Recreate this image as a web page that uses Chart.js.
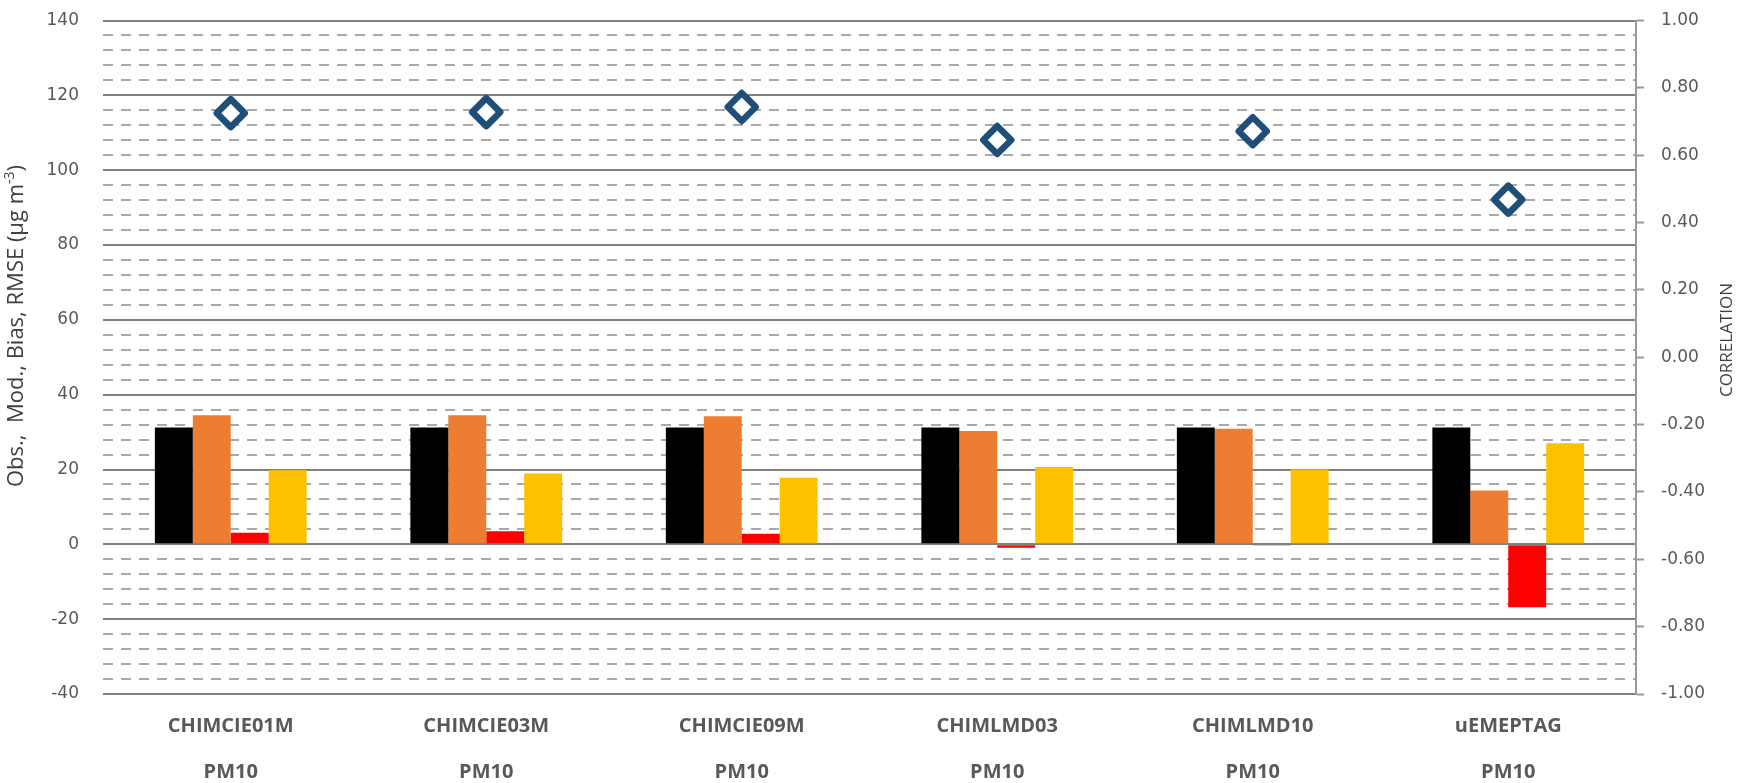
<!DOCTYPE html>
<html>
<head>
<meta charset="utf-8">
<script src="https://cdn.jsdelivr.net/npm/chart.js@4.4.1/dist/chart.umd.min.js"></script>
<style>
  html, body { margin: 0; padding: 0; background: #ffffff; }
  #wrap { width: 1739px; height: 783px; position: relative; }
</style>
</head>
<body>
<div id="wrap"><canvas id="c" width="1739" height="783"></canvas></div>
<script>
// Model runs and the pollutant evaluated for each
const models = ['CHIMCIE01M', 'CHIMCIE03M', 'CHIMCIE09M', 'CHIMLMD03', 'CHIMLMD10', 'uEMEPTAG'];
const pollutant = ['PM10', 'PM10', 'PM10', 'PM10', 'PM10', 'PM10'];

// Statistics in µg m-3
const observed = [31.2, 31.2, 31.2, 31.2, 31.2, 31.2];
const modelled = [34.5, 34.5, 34.2, 30.3, 30.9, 14.4];
const bias     = [3.1, 3.5, 2.8, -0.9, -0.3, -16.8];
const rmse     = [19.8, 18.9, 17.8, 20.7, 20.0, 27.0];

// Correlation coefficient (right axis)
const correlation = [0.725, 0.728, 0.743, 0.645, 0.671, 0.468];

// Axis ranges and tick spacing
const leftRange  = { min: -40, max: 140, major: 20, minor: 4 };
const rightRange = { min: -1, max: 1, step: 0.2 };

const GRID_MAJOR = '#808080';
const GRID_MINOR = '#a9a9a9';
const TEXT_GREY  = '#595959';
const TITLE_GREY = '#404040';

const isMajor = (v) => Math.abs(v % leftRange.major) < 1e-9;

// Rounded corners for the diamond markers
const roundJoins = {
  id: 'roundJoins',
  beforeDatasetDraw(chart, args) {
    if (args.meta.type === 'line') { chart.ctx.save(); chart.ctx.lineJoin = 'round'; }
  },
  afterDatasetDraw(chart, args) {
    if (args.meta.type === 'line') chart.ctx.restore();
  }
};

// Vertical axis titles (left one carries a superscript unit exponent)
const axisTitles = {
  id: 'axisTitles',
  afterDraw(chart) {
    const ctx = chart.ctx;
    const base = 22, sup = 14;
    const mainFont = base + 'px "Open Sans"';
    const supFont = sup + 'px "Open Sans"';
    const parts = [
      { t: 'Obs.,  Mod., Bias, RMSE (µg m', f: mainFont, dy: 0 },
      { t: '-3', f: supFont, dy: -9 },
      { t: ')', f: mainFont, dy: 0 }
    ];
    ctx.save();
    ctx.fillStyle = TITLE_GREY;
    ctx.textBaseline = 'alphabetic';
    let total = 0;
    parts.forEach(p => { ctx.font = p.f; p.w = ctx.measureText(p.t).width; total += p.w; });
    ctx.translate(23, 326);
    ctx.rotate(-Math.PI / 2);
    let x = -total / 2;
    parts.forEach(p => { ctx.font = p.f; ctx.fillText(p.t, x, p.dy); x += p.w; });
    ctx.restore();

    ctx.save();
    ctx.fillStyle = TITLE_GREY;
    ctx.font = '17px "Open Sans"';
    ctx.textAlign = 'center';
    ctx.textBaseline = 'middle';
    ctx.translate(1727, 340);
    ctx.rotate(-Math.PI / 2);
    ctx.fillText('CORRELATION', 0, 0);
    ctx.restore();
  }
};

// Fixed axis widths; tick-label overhang is not allowed to shrink the plot
const fitVertical = (width) => (s) => {
  s.width = width;
  s.paddingTop = 0;
  s.paddingBottom = 0;
};

new Chart(document.getElementById('c'), {
  type: 'bar',
  data: {
    labels: models.map((m, i) => [m, pollutant[i]]),
    datasets: [
      { label: 'Obs.', data: observed, backgroundColor: '#000000', yAxisID: 'y', order: 2 },
      { label: 'Mod.', data: modelled, backgroundColor: '#ED7D31', yAxisID: 'y', order: 2 },
      { label: 'Bias', data: bias,     backgroundColor: '#FF0000', yAxisID: 'y', order: 2 },
      { label: 'RMSE', data: rmse,     backgroundColor: '#FFC000', yAxisID: 'y', order: 2 },
      {
        type: 'line', label: 'Correlation', data: correlation, yAxisID: 'y2', order: 1,
        showLine: false, pointStyle: 'rectRot', pointRadius: 14, pointHoverRadius: 14,
        pointBorderWidth: 6.5, pointHoverBorderWidth: 6.5,
        borderColor: '#1F4E79', pointBorderColor: '#1F4E79',
        backgroundColor: '#ffffff', pointBackgroundColor: '#ffffff'
      }
    ]
  },
  options: {
    responsive: false,
    animation: false,
    events: [],
    layout: { padding: { top: 20, left: 0, right: 0, bottom: 0 } },
    datasets: { bar: { categoryPercentage: 0.594, barPercentage: 1.0, borderWidth: 0 } },
    plugins: { legend: { display: false }, tooltip: { enabled: false } },
    scales: {
      x: {
        grid: { display: false, drawTicks: false },
        border: { display: false },
        ticks: {
          padding: 9,
          color: TEXT_GREY,
          font: { family: '"Open Sans"', size: 20, weight: 'bold', lineHeight: 2.3 }
        },
        afterFit(s) { s.height = 89; }
      },
      y: {
        position: 'left',
        min: leftRange.min, max: leftRange.max,
        ticks: {
          stepSize: leftRange.minor,
          autoSkip: false,
          padding: 24,
          color: TEXT_GREY,
          font: { family: '"DejaVu Sans"', size: 17 },
          callback: (v) => isMajor(v) ? String(v) : ''
        },
        grid: {
          drawTicks: false,
          lineWidth: 2,
          color: (c) => (c.tick && isMajor(c.tick.value)) ? GRID_MAJOR : GRID_MINOR
        },
        border: {
          display: false,
          dash: (c) => (c.tick && !isMajor(c.tick.value)) ? [10, 8] : []
        },
        afterFit: fitVertical(103)
      },
      y2: {
        position: 'right',
        min: rightRange.min, max: rightRange.max,
        ticks: {
          stepSize: rightRange.step,
          padding: 17,
          color: TEXT_GREY,
          font: { family: '"DejaVu Sans"', size: 17 },
          callback: (v) => (Math.abs(v) < 1e-9 ? 0 : v).toFixed(2)
        },
        grid: { drawOnChartArea: false, drawTicks: true, tickLength: 8, tickColor: '#9a9a9a', tickWidth: 2 },
        border: { display: true, color: '#9a9a9a', width: 2 },
        afterFit: fitVertical(103)
      }
    }
  },
  plugins: [roundJoins, axisTitles]
});
</script>
</body>
</html>
